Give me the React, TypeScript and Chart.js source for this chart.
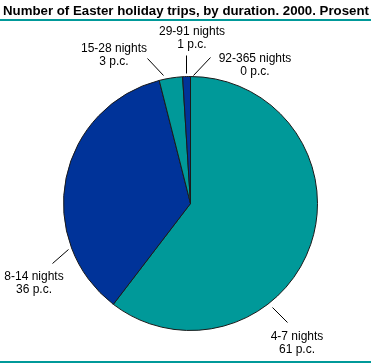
import React, { useEffect, useRef } from "react";
import { Chart, registerables } from "chart.js";

Chart.register(...registerables);

const TITLE = "Number of Easter holiday trips, by duration. 2000. Prosent";
const categories = ["4-7 nights", "8-14 nights", "15-28 nights", "29-91 nights", "92-365 nights"];
const values = [61, 36, 3, 1, 0];
const pctLabels = ["61 p.c.", "36 p.c.", "3 p.c.", "1 p.c.", "0 p.c."];
const colors = ["#009999", "#003399", "#009999", "#003399", "#009999"];

// label placement: text centre x, first line y, leader line from (x1,y1) to (x2,y2)
const labelPos = [
  { x: 297, y: 337, x1: 272, y1: 307, x2: 287, y2: 322 },
  { x: 34, y: 277, x1: 68, y1: 249, x2: 52, y2: 263 },
  { x: 114, y: 49, x1: 163, y1: 75, x2: 147, y2: 58 },
  { x: 192, y: 32, x1: 186, y1: 73, x2: 186, y2: 55 },
  { x: 255, y: 59, x1: 193, y1: 75, x2: 210, y2: 57 },
];

const overlay = {
  id: "overlay",
  afterDraw(chart: any) {
    const ctx = chart.ctx as CanvasRenderingContext2D;
    ctx.save();
    ctx.fillStyle = "#000";
    ctx.font = "bold 13.25px 'Liberation Sans', Arial, sans-serif";
    ctx.textBaseline = "alphabetic";
    ctx.textAlign = "left";
    ctx.fillText(TITLE, 3, 15);
    ctx.fillStyle = "#009999";
    ctx.fillRect(0, 19, 371, 2);
    ctx.fillRect(0, 361, 371, 2);

    ctx.font = "12px 'Liberation Sans', Arial, sans-serif";
    ctx.textAlign = "center";
    ctx.textBaseline = "middle";
    ctx.strokeStyle = "#000";
    ctx.lineWidth = 1;
    labelPos.forEach((p, i) => {
      ctx.fillStyle = "#000";
      ctx.fillText(categories[i], p.x, p.y);
      ctx.fillText(pctLabels[i], p.x, p.y + 13);
      ctx.beginPath();
      ctx.moveTo(p.x1 + 0.5, p.y1 + 0.5);
      ctx.lineTo(p.x2 + 0.5, p.y2 + 0.5);
      ctx.stroke();
    });
    ctx.restore();
  },
};

export default function App() {
  const ref = useRef<HTMLCanvasElement | null>(null);
  useEffect(() => {
    document.body.style.margin = "0";
    const chart = new Chart(ref.current as HTMLCanvasElement, {
      type: "pie",
      data: {
        labels: categories,
        datasets: [
          {
            data: values,
            backgroundColor: colors,
            borderColor: "#1a1a1a",
            borderWidth: 1,
          },
        ],
      },
      options: {
        animation: false,
        responsive: false,
        maintainAspectRatio: false,
        layout: { padding: { left: 63, right: 53, top: 76, bottom: 32 } },
        plugins: {
          legend: { display: false },
          tooltip: { enabled: false },
          title: { display: false },
        },
      },
      plugins: [overlay],
    });
    return () => chart.destroy();
  }, []);
  return (
    <div style={{ position: "absolute", left: 0, top: 0, width: 371, height: 363, background: "#fff" }}>
      <canvas ref={ref} width={371} height={363} style={{ display: "block" }} />
    </div>
  );
}
